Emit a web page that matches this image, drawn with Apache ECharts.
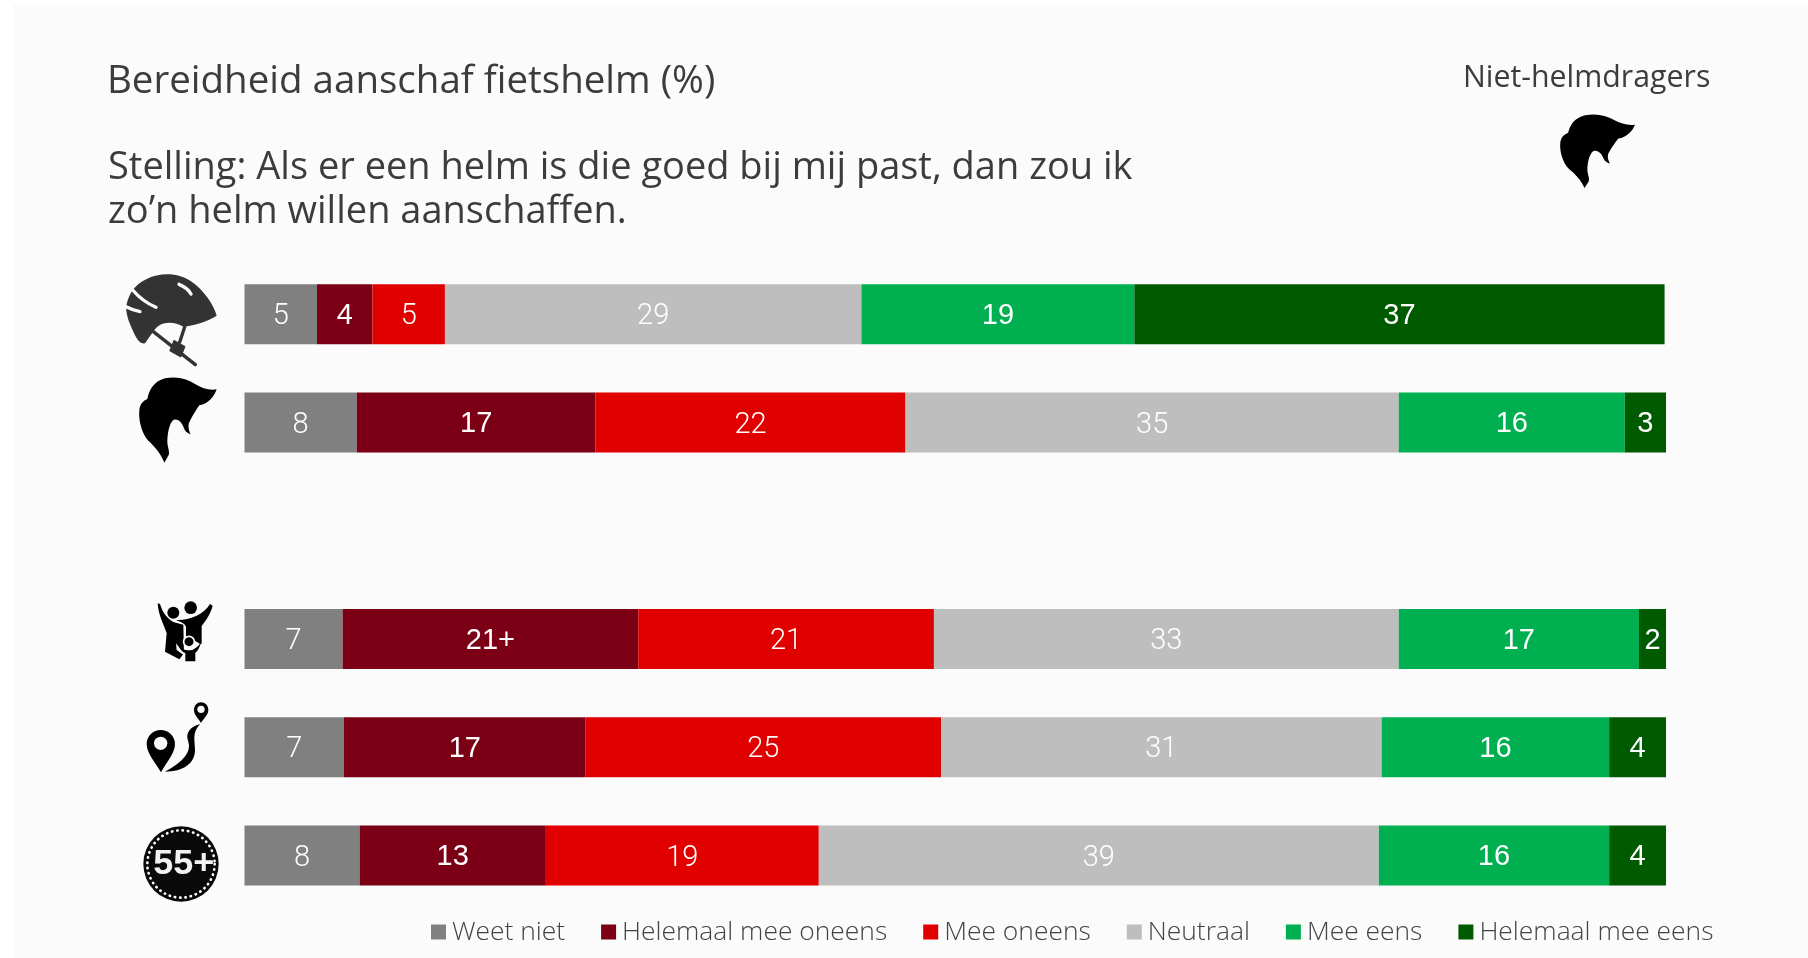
<!DOCTYPE html>
<html>
<head>
<meta charset="utf-8">
<title>Bereidheid aanschaf fietshelm</title>
<script src="https://cdn.jsdelivr.net/npm/echarts@6/dist/echarts.min.js"></script>
<style>
    html, body { margin: 0; padding: 0; background: #fff; }
    #chart { width: 1808px; height: 958px; }
</style>
</head>
<body>
<div id="chart"></div>
<script>
// rijen: helmdragers, niet-helmdragers, lege regel, gezin, route, 55+
const rows = ['Helmdragers', 'Niet-helmdragers', '', 'Gezin', 'Route', '55+'];
const weetNiet = [5.1, 7.9, null, 6.9, 7.0, 8.1];
const helemaalOneens = [3.9, 16.8, null, 20.8, 17.0, 13.1];
const meeOneens = [5.1, 21.8, null, 20.8, 25.0, 19.2];
const neutraal = [29.3, 34.7, null, 32.7, 31.0, 39.4];
const meeEens = [19.2, 15.9, null, 16.9, 16.0, 16.2];
const helemaalEens = [37.3, 2.9, null, 1.9, 4.0, 4.0];
const oneensSuffix = ['', '', '', '+', '', ''];

const seriesNames = ['Weet niet', 'Helemaal mee oneens', 'Mee oneens', 'Neutraal', 'Mee eens', 'Helemaal mee eens'];
const seriesValues = [weetNiet, helemaalOneens, meeOneens, neutraal, meeEens, helemaalEens];
const seriesColors = ['#808080', '#7b0015', '#e00000', '#bebebe', '#00b050', '#005a00'];
const thinLabel = [true, false, true, true, false, false];

const panel = '#fbfbfb';
const textColor = '#3c3c3c';
const font = 'Open Sans';

// iconen, getekend in de coordinaten van een 3x vergrote uitsnede
const headPath = 'M380 418C372 440 355 462 328 466C318 480 300 510 296 522C294 535 298 545 302 553C292 550 285 545 282 535C275 515 262 505 250 510C238 520 232 550 232 575C232 590 240 605 236 615L223 638C212 610 195 590 175 572C155 550 145 510 148 480C150 462 160 452 172 447C178 420 190 395 225 385C260 378 290 385 315 402C335 415 360 422 380 418Z';

function head(x, y, scaleX, scaleY) {
    // de kop begint in de uitsnede op 147,381
    return {
        type: 'group', x: x - 147 * scaleX, y: y - 381 * scaleY, scaleX: scaleX, scaleY: scaleY,
        children: [{ type: 'path', shape: { pathData: headPath }, style: { fill: '#000' } }]
    };
}

function helmet() {
    const dark = '#333333';
    return {
        type: 'group', x: 90, y: 250, scaleX: 1 / 3, scaleY: 1 / 3,
        children: [
            { type: 'path', shape: { pathData: 'M108 175C112 140 130 105 170 87C215 65 270 70 305 95C340 120 370 160 380 197C350 215 310 228 280 230C255 215 225 215 205 228C190 240 180 260 165 280C150 282 140 268 130 245C118 220 110 200 108 175Z' }, style: { fill: dark } },
            { type: 'path', shape: { pathData: 'M190 245L316 344' }, style: { fill: null, stroke: dark, lineWidth: 10, lineCap: 'round' } },
            { type: 'path', shape: { pathData: 'M285 228L268 280' }, style: { fill: null, stroke: dark, lineWidth: 10 } },
            { type: 'path', shape: { pathData: 'M252 272L284 290L272 320L240 302Z' }, style: { fill: dark, stroke: dark, lineWidth: 4, lineJoin: 'round' } },
            { type: 'path', shape: { pathData: 'M128 120C145 140 170 160 198 172' }, style: { fill: null, stroke: panel, lineWidth: 10, lineCap: 'round' } },
            { type: 'path', shape: { pathData: 'M108 170C120 176 135 182 150 185' }, style: { fill: null, stroke: panel, lineWidth: 10, lineCap: 'round' } },
            { type: 'path', shape: { pathData: 'M267 103C280 108 295 118 303 132' }, style: { fill: null, stroke: panel, lineWidth: 10, lineCap: 'round' } }
        ]
    };
}

function family() {
    return {
        type: 'group', x: 120, y: 590, scaleX: 1 / 3, scaleY: 1 / 3,
        children: [
            { type: 'circle', shape: { cx: 160, cy: 68, r: 18 }, style: { fill: '#000' } },
            { type: 'circle', shape: { cx: 212, cy: 53, r: 19 }, style: { fill: '#000' } },
            { type: 'path', shape: { pathData: 'M113 40L120 42C128 68 140 84 160 96L190 104L192 190L178 208L135 185L140 130C130 100 115 75 113 40Z' }, style: { fill: '#000' } },
            { type: 'path', shape: { pathData: 'M168 90C205 92 250 75 270 42L278 47C272 72 255 95 245 108L245 165L225 152C215 142 205 140 198 145L198 110C195 100 180 95 168 90Z' }, style: { fill: '#000' } },
            { type: 'path', shape: { pathData: 'M168 160C180 178 192 184 207 184C222 184 236 176 248 156L250 172L232 194L232 220L190 220L190 194L170 180Z' }, style: { fill: panel } },
            { type: 'circle', shape: { cx: 207, cy: 155, r: 16 }, style: { fill: '#000', stroke: panel, lineWidth: 5 } },
            { type: 'path', shape: { pathData: 'M175 165C185 178 195 181 207 181C220 181 232 172 242 158C240 172 232 184 226 188L226 214L196 214L196 190C186 186 178 176 175 165Z' }, style: { fill: '#000' } }
        ]
    };
}

function route() {
    return {
        type: 'group', x: 120, y: 590, scaleX: 1 / 3, scaleY: 1 / 3,
        children: [
            { type: 'path', shape: { pathData: 'M123 547C105 515 80 490 80 462C80 438 100 420 122 420C145 420 165 438 165 462C165 490 140 515 123 547Z' }, style: { fill: '#000' } },
            { type: 'circle', shape: { cx: 122, cy: 460, r: 20 }, style: { fill: panel } },
            { type: 'path', shape: { pathData: 'M243 399C235 385 222 375 222 360C222 346 232 337 243 337C255 337 265 346 265 360C265 375 251 385 243 399Z' }, style: { fill: '#000' } },
            { type: 'circle', shape: { cx: 243, cy: 358, r: 11 }, style: { fill: panel } },
            { type: 'path', shape: { pathData: 'M240 402C210 410 195 430 205 455C215 485 190 515 135 545C190 545 225 520 225 480C225 450 215 430 240 402Z' }, style: { fill: '#000' } }
        ]
    };
}

function badge() {
    return {
        type: 'group', x: 120, y: 590, scaleX: 1 / 3, scaleY: 1 / 3,
        children: [
            { type: 'circle', shape: { cx: 183, cy: 822, r: 113 }, style: { fill: '#0a0a0a' } },
            { type: 'circle', shape: { cx: 183, cy: 822, r: 101 }, style: { fill: null, stroke: '#fff', lineWidth: 8, lineDash: [1, 15], lineCap: 'round' } },
            { type: 'text', x: 191, y: 822, style: { text: '55+', fill: '#f2f2f2', font: 'bold 108px "Liberation Sans"', align: 'center', verticalAlign: 'middle' } }
        ]
    };
}

let myChart = echarts.init(document.getElementById('chart'));

myChart.setOption({
    animation: false,
    backgroundColor: '#ffffff',
    title: [
        {
            text: 'Bereidheid aanschaf fietshelm (%)', left: 102, top: 58,
            textStyle: { fontFamily: font, fontWeight: 'normal', fontSize: 38.5, color: textColor }
        },
        {
            text: 'Stelling: Als er een helm is die goed bij mij past, dan zou ik\nzo\u2019n helm willen aanschaffen.', left: 103, top: 141,
            textStyle: { fontFamily: font, fontWeight: 'normal', fontSize: 38, lineHeight: 44, color: textColor }
        },
        {
            text: 'Niet-helmdragers', left: 1458, top: 58,
            textStyle: { fontFamily: font, fontWeight: 'normal', fontSize: 30.3, color: textColor }
        }
    ],
    legend: {
        data: seriesNames,
        left: 426,
        top: 914,
        itemWidth: 15,
        itemHeight: 15,
        itemGap: 36,
        icon: 'rect',
        selectedMode: false,
        textStyle: { fontFamily: font, fontWeight: 300, fontSize: 26.4, color: '#444444', padding: [0, 0, 0, 1] }
    },
    grid: { left: 244.5, top: 260, width: 1421.5, height: 649.6 },
    xAxis: { type: 'value', min: 0, max: 100, show: false },
    yAxis: { type: 'category', inverse: true, data: rows, show: false },
    graphic: [
        { type: 'rect', z: -10, shape: { x: 13, y: 4, width: 1795, height: 954 }, style: { fill: panel } }
    ],
    series: seriesNames.map(function (name, i) {
        return {
            name: name,
            type: 'bar',
            stack: 'totaal',
            barWidth: 60,
            data: seriesValues[i],
            itemStyle: { color: seriesColors[i] },
            label: {
                show: true,
                position: 'inside',
                offset: [0, thinLabel[i] ? 3 : 2],
                color: '#ffffff',
                fontSize: 29,
                fontFamily: thinLabel[i] ? 'Roboto' : 'Liberation Sans',
                fontWeight: thinLabel[i] ? 300 : 'normal',
                formatter: function (p) {
                    const suffix = name === 'Helemaal mee oneens' ? oneensSuffix[p.dataIndex] : '';
                    return Math.round(p.value) + suffix;
                }
            }
        };
    }).concat([{
        // de iconen naast de rijen
        type: 'custom',
        coordinateSystem: 'none',
        silent: true,
        data: [0],
        renderItem: function () {
            return {
                type: 'group',
                children: [helmet(), head(139, 377, 1 / 3, 1 / 3), head(1560, 114, 0.322, 0.288), family(), route(), badge()]
            };
        }
    }])
});
</script>
</body>
</html>
